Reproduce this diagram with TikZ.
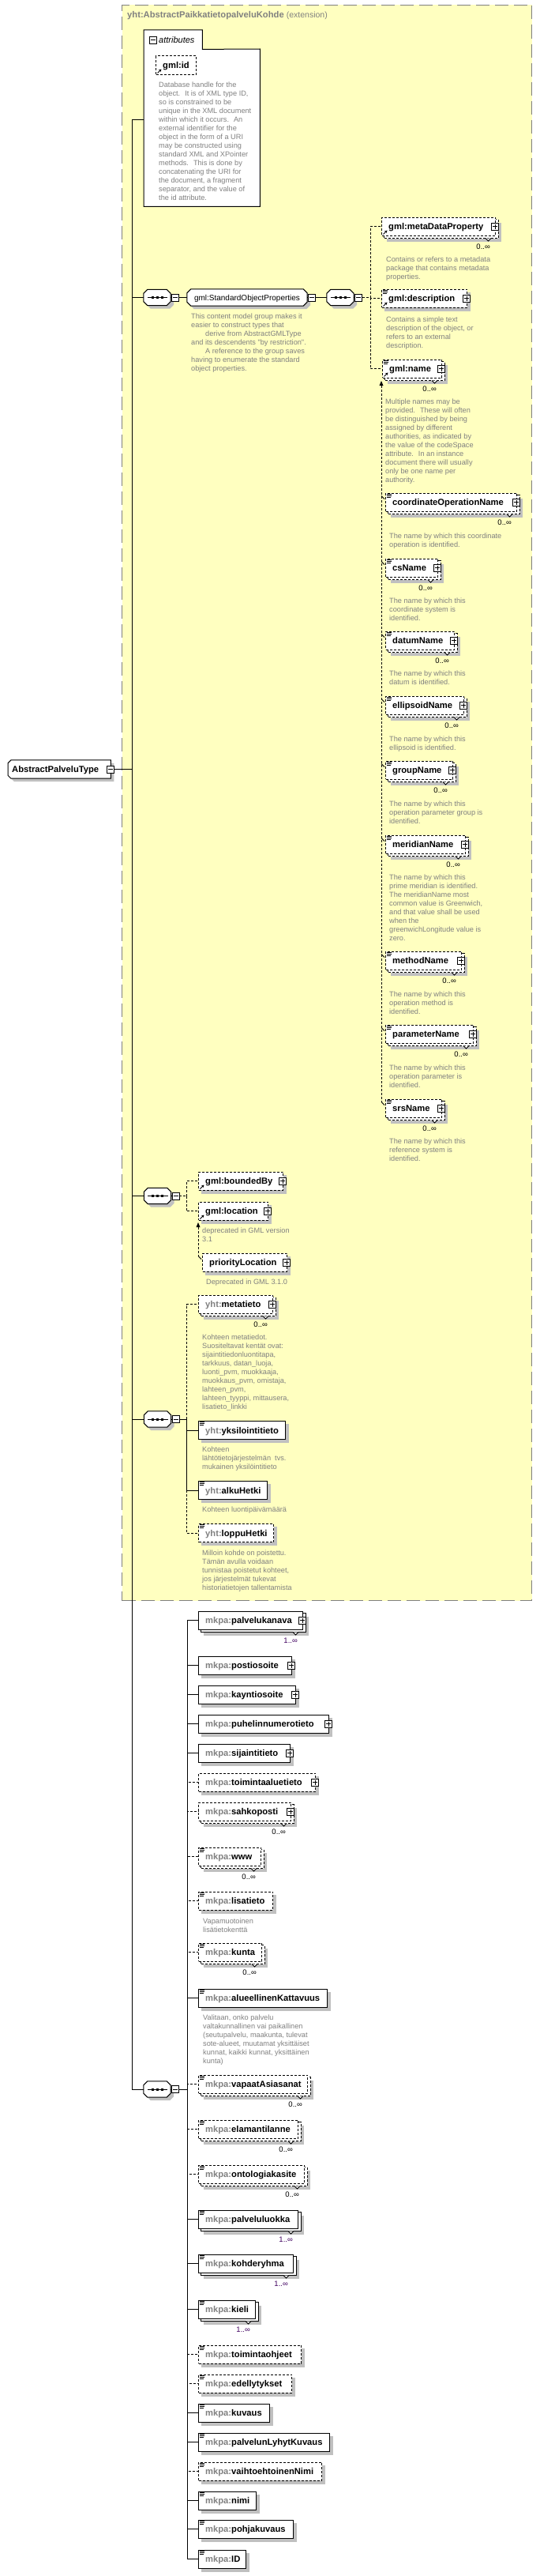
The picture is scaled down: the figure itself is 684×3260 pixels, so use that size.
\documentclass[tikz,border=0pt]{standalone}
\usepackage{fontspec}
\setmainfont{Liberation Sans}[Ligatures=TeXOff]
\usetikzlibrary{arrows.meta}
\definecolor{yel}{RGB}{255,255,192}
\definecolor{dgray}{RGB}{128,128,128}
\definecolor{shad}{RGB}{192,192,192}
\definecolor{bord}{RGB}{128,128,128}
\definecolor{mpurp}{RGB}{64,0,96}
\pgfdeclarelayer{bg}\pgfdeclarelayer{shadow}\pgfdeclarelayer{frame}
\pgfsetlayers{bg,shadow,frame,main}
\newcommand\fEl{\fontsize{11.2pt}{13pt}\selectfont\bfseries}
\newcommand\fDesc{\fontsize{9.2pt}{11pt}\selectfont}
\newcommand\fMult{\fontsize{9.5pt}{11pt}\selectfont}
\newcommand\fGrp{\fontsize{10pt}{12pt}\selectfont}
\newcommand\fAttr{\fontsize{11pt}{13pt}\selectfont\itshape}
\newcommand\xpfx[1]{{\color{dgray}#1}}
\tikzset{
 elbox/.style={draw, fill=white, line width=1pt, inner sep=0pt, minimum height=23pt},
 optb/.style={dash pattern=on 3pt off 2pt},
 reqb/.style={solid},
 eltext/.style={inner sep=0pt, font=\fEl, text height=8pt, text depth=0pt},
 desc/.style={inner sep=0pt, font=\fDesc, text=dgray, align=left, anchor=north west},
 mult/.style={inner sep=0pt, font=\fMult, anchor=east, text height=6.5pt, text depth=0pt},
 conn/.style={line width=1pt},
 oconn/.style={line width=1pt, dash pattern=on 3pt off 2pt},
 pmbox/.style={draw, fill=white, line width=0.8pt, minimum size=9pt, inner sep=0pt},
}
% element box: name, left, cy, width, text, style, shadow offset
\newcommand\xEl[7]{%
  \node[elbox,#6,minimum width=#4pt,anchor=west] (#1) at (#2,#3) {};
  \begin{pgfonlayer}{shadow}\fill[shad] ([shift={(#7,#7)}]#1.north west) rectangle ([shift={(#7,#7)}]#1.south east);\end{pgfonlayer}
  \node[eltext,anchor=west] (#1t) at ([xshift=9pt]#1.west) {#5};}
\newcommand\xMulti[3]{%
  \begin{pgfonlayer}{frame}
  \draw[line width=1pt,fill=white,#2] ([shift={(3,3)}]#1.north west) rectangle ([shift={(3,3)}]#1.south east);
  \draw[line width=0.8pt,fill=white] ([shift={(-13,3)}]#1.south east) -- ([shift={(-9.5,6.5)}]#1.south east) -- ([shift={(-6,3)}]#1.south east);
  \end{pgfonlayer}
  \node[mult] (#1m) at ([shift={(-7,14)}]#1.south east) {#3};}
\newcommand\xPlus[1]{%
  \node[pmbox] (#1p) at ([xshift=-1pt]#1.east) {};
  \draw[line width=0.8pt] ([xshift=-3pt]#1p.center) -- ([xshift=3pt]#1p.center) ([yshift=-3pt]#1p.center) -- ([yshift=3pt]#1p.center);}
\newcommand\xMinus[2]{%
  \node[pmbox] (#1) at (#2) {};
  \draw[line width=0.8pt] ([xshift=-3pt]#1.center) -- ([xshift=3pt]#1.center);}
\newcommand\xSimple[1]{%
  \draw[line width=0.7pt] ([shift={(2,1.8)}]#1.north west) -- +(6,0) ([shift={(2,3.8)}]#1.north west) -- +(6,0) ([shift={(2,5.8)}]#1.north west) -- +(5,0);}
\newcommand\xRefArr[1]{%
  \draw[line width=0.9pt,-{Stealth[length=3.5pt,width=3.5pt]}] ([shift={(2.5,-2)}]#1.south west) -- ([shift={(7.5,-7)}]#1.south west);}
\newcommand\xDesc[4]{\node[desc] (#1) at (#2,#3-4.7) {\rule{0pt}{8pt}#4};}
\newcommand\xTick[2]{%
  \path ([yshift=8pt]#1.west) coordinate (#1k);
  \draw[line width=0.8pt] (#1k -| #2) -- ([shift={(-1,-4)}]#1.west);}
\newcommand\xoctpath[3]{([shift={(#2+#3,#3)}]#1.north west) -- ([shift={(-#2+#3,#3)}]#1.north east) -- ([shift={(#3,#2+#3)}]#1.north east) -- ([shift={(#3,-#2+#3)}]#1.south east) -- ([shift={(-#2+#3,#3)}]#1.south east) -- ([shift={(#2+#3,#3)}]#1.south west) -- ([shift={(#3,-#2+#3)}]#1.south west) -- ([shift={(#3,#2+#3)}]#1.north west) -- cycle}
\newcommand\xtypepath[2]{([shift={(4+#2,#2)}]#1.north west) -- ([shift={(#2,#2)}]#1.north east) -- ([shift={(#2,#2)}]#1.south east) -- ([shift={(4+#2,#2)}]#1.south west) -- ([shift={(#2,-4+#2)}]#1.south west) -- ([shift={(#2,4+#2)}]#1.north west) -- cycle}
\newcommand\xSeq[3]{%
  \node[inner sep=0pt, minimum width=34pt, minimum height=20pt] (#1) at (#2,#3) {};
  \begin{pgfonlayer}{shadow}\fill[shad] \xoctpath{#1}{5}{4};\end{pgfonlayer}
  \begin{pgfonlayer}{frame}\draw[line width=1pt, fill=white] \xoctpath{#1}{5}{0};\end{pgfonlayer}
  \draw[line width=1pt] ([xshift=5pt]#1.west) -- ([xshift=-4pt]#1.east);
  \foreach \dx in {-6,0,6} {\fill ([shift={(\dx-1.5,-1.5)}]#1.center) rectangle ([shift={(\dx+1.5,1.5)}]#1.center);}
  \xMinus{#1m}{#2+23,#3}
  \draw[conn] (#1.east) -- (#1m.west);}
\newcommand\xMem[4]{%
  \xEl{#1}{488}{#2}{#3}{#4}{optb}{7}\xMulti{#1}{optb}{0..∞}\xSimple{#1}\xPlus{#1}\xTick{#1}{sgA}}
\newcommand\xLow[6]{\xEl{#1}{251}{#2}{#3}{\xpfx{mkpa:}#4}{#5}{#6}}
\begin{document}
\begin{tikzpicture}[x=1pt,y=-1pt]
\useasboundingbox (0,0) rectangle (684,3260);
\begin{pgfonlayer}{bg}
\fill[white] (0,0) rectangle (684,3260);
\node[draw=bord, fill=yel, line width=1pt, dash pattern=on 17pt off 7pt, inner sep=0pt, minimum width=519pt, minimum height=2019pt, anchor=north west] (ext) at (154,6) {};
\end{pgfonlayer}
\node[anchor=base west, inner sep=0pt, text=dgray] (title) at (161,23) {\fEl yht:AbstractPaikkatietopalveluKohde\ \fontsize{10.5pt}{12pt}\selectfont\mdseries(extension)};
% attributes
\node[inner sep=0pt, minimum width=147pt, minimum height=199pt, anchor=north west] (attr) at (182,62) {};
\node[inner sep=0pt, minimum width=74pt, minimum height=24pt, anchor=north west] (attrtab) at (182,38) {};
\draw[line width=1pt, fill=white] (attrtab.north west) -- (attrtab.north east) -- (attrtab.south east) -- (attr.north east) -- (attr.south east) -- (attr.south west) -- cycle;
\xMinus{attrm}{193.5,50.5}
\node[anchor=west, inner sep=0pt, font=\fAttr, text height=8pt, text depth=0pt] (attrt) at (201,50.5) {attributes};
\xEl{gid}{197}{82.5}{51}{gml:id}{optb}{4}\xRefArr{gid}
\xDesc{gidd}{201}{107}{Database handle for the\\object.~ It is of XML type ID,\\so is constrained to be\\unique in the XML document\\within which it occurs.~ An\\external identifier for the\\object in the form of a URI\\may be constructed using\\standard XML and XPointer\\methods.~ This is done by\\concatenating the URI for\\the document, a fragment\\separator, and the value of\\the id attribute.}
% type
\node[inner sep=0pt, minimum width=130pt, minimum height=23pt, anchor=west] (apt) at (10,973.5) {};
\begin{pgfonlayer}{shadow}\fill[shad] \xtypepath{apt}{4};\end{pgfonlayer}
\begin{pgfonlayer}{frame}\draw[line width=1pt, fill=white] \xtypepath{apt}{0};\end{pgfonlayer}
\node[eltext, anchor=west] (aptt) at (15,973.5) {AbstractPalveluType};
\xMinus{aptm}{140,973.5}
% standard object properties
\xSeq{seqa}{199}{376.5}
\node[inner sep=0pt, minimum width=152pt, minimum height=21pt, font=\fGrp, text height=7pt, text depth=0pt] (sop) at (313,376.5) {gml:StandardObjectProperties};
\begin{pgfonlayer}{shadow}\fill[shad] \xoctpath{sop}{5}{4};\end{pgfonlayer}
\begin{pgfonlayer}{frame}\draw[line width=1pt, fill=white] \xoctpath{sop}{5}{0};\end{pgfonlayer}
\xMinus{sopm}{395,376.5}
\xDesc{sopd}{242}{400}{This content model group makes it\\easier to construct types that\\\hspace*{18pt}derive from AbstractGMLType\\and its descendents "by restriction".\\\hspace*{18pt}A reference to the group saves\\having to enumerate the standard\\object properties.}
\xSeq{seqb}{431}{376.5}
\xEl{mdp}{483}{286.5}{144}{gml:metaDataProperty}{optb}{7}\xMulti{mdp}{optb}{0..∞}\xRefArr{mdp}\xPlus{mdp}
\xDesc{mdpd}{489}{328}{Contains or refers to a metadata\\package that contains metadata\\properties.}
\xEl{gdesc}{483}{377.5}{108}{gml:description}{optb}{4}\xSimple{gdesc}\xRefArr{gdesc}\xPlus{gdesc}
\xDesc{gdescd}{489}{404}{Contains a simple text\\description of the object, or\\refers to an external\\description.}
\xEl{gname}{484}{466.5}{75}{gml:name}{optb}{7}\xMulti{gname}{optb}{0..∞}\xSimple{gname}\xRefArr{gname}\xPlus{gname}
\xDesc{gnamed}{488}{508}{Multiple names may be\\provided.~ These will often\\be distinguished by being\\assigned by different\\authorities, as indicated by\\the value of the codeSpace\\attribute.~ In an instance\\document there will usually\\only be one name per\\authority.}
\coordinate (sgA) at (483,484);
\xMem{con}{635.5}{166}{coordinateOperationName}
\xDesc{cond}{493}{678}{The name by which this coordinate\\operation is identified.}
\xMem{csn}{718.5}{66}{csName}
\xDesc{csnd}{493}{760}{The name by which this\\coordinate system is\\identified.}
\xMem{dat}{810.5}{87}{datumName}
\xDesc{datd}{493}{852}{The name by which this\\datum is identified.}
\xMem{ell}{892.5}{99}{ellipsoidName}
\xDesc{elld}{493}{935}{The name by which this\\ellipsoid is identified.}
\xMem{grp}{974.5}{85}{groupName}
\xDesc{grpd}{493}{1017}{The name by which this\\operation parameter group is\\identified.}
\xMem{mer}{1068.5}{101}{meridianName}
\xDesc{merd}{493}{1110}{The name by which this\\prime meridian is identified.\\The meridianName most\\common value is Greenwich,\\and that value shall be used\\when the\\greenwichLongitude value is\\zero.}
\xMem{met}{1215.5}{96}{methodName}
\xDesc{metd}{493}{1258}{The name by which this\\operation method is\\identified.}
\xMem{par}{1308.5}{111}{parameterName}
\xDesc{pard}{493}{1351}{The name by which this\\operation parameter is\\identified.}
\xMem{srs}{1402.5}{71}{srsName}
\xDesc{srsd}{493}{1444}{The name by which this\\reference system is\\identified.}
\fill (sgA) ++(-2.5,4) -- ++(5,0) -- ++(-2.5,-6) -- cycle;
\draw[oconn] ([yshift=-4pt]sgA) -- (sgA |- srsk);
% boundedBy / location
\xSeq{seqc}{199.5}{1513.5}
\xEl{bb}{251}{1494.5}{107}{gml:boundedBy}{optb}{4}\xRefArr{bb}\xPlus{bb}
\xEl{loc}{251}{1532.5}{88}{gml:location}{optb}{4}\xRefArr{loc}\xPlus{loc}
\xDesc{locd}{256}{1557}{deprecated in GML version\\3.1}
\coordinate (sgB) at (251,1549);
\xEl{pl}{256}{1597.5}{107}{priorityLocation}{optb}{4}\xPlus{pl}\xTick{pl}{sgB}
\xDesc{pld}{261}{1622}{Deprecated in GML 3.1.0}
\fill (sgB) ++(-2.5,4) -- ++(5,0) -- ++(-2.5,-6) -- cycle;
\draw[oconn] ([yshift=-4pt]sgB) -- (sgB |- plk);
% yht
\xSeq{seqd}{199.5}{1796}
\xEl{meta}{251}{1650.5}{94}{\xpfx{yht:}metatieto}{optb}{7}\xMulti{meta}{optb}{0..∞}\xPlus{meta}
\xDesc{metad}{256}{1692}{Kohteen metatiedot.\\Suositeltavat kentät ovat:\\sijaintitiedonluontitapa,\\tarkkuus, datan\_luoja,\\luonti\_pvm, muokkaaja,\\muokkaus\_pvm, omistaja,\\lahteen\_pvm,\\lahteen\_tyyppi, mittausera,\\lisatieto\_linkki}
\xEl{yks}{251}{1810}{110}{\xpfx{yht:}yksilointitieto}{reqb}{4}\xSimple{yks}
\xDesc{yksd}{256}{1834}{Kohteen\\lähtötietojärjestelmän~ tvs.\\mukainen yksilöintitieto}
\xEl{alk}{251}{1886}{87}{\xpfx{yht:}alkuHetki}{reqb}{4}\xSimple{alk}
\xDesc{alkd}{256}{1910}{Kohteen luontipäivämäärä}
\xEl{lop}{251}{1940}{95}{\xpfx{yht:}loppuHetki}{optb}{4}\xSimple{lop}
\xDesc{lopd}{256}{1965}{Milloin kohde on poistettu.\\Tämän avulla voidaan\\tunnistaa poistetut kohteet,\\jos järjestelmät tukevat\\historiatietojen tallentamista}
% lower sequence
\xSeq{seqe}{199}{2644}
\xLow{e1}{2050.5}{132}{palvelukanava}{reqb}{7}\xMulti{e1}{reqb}{\color{mpurp}1..∞}\xPlus{e1}
\xLow{e2}{2107.5}{118}{postiosoite}{reqb}{4}\xPlus{e2}
\xLow{e3}{2144.5}{123}{kayntiosoite}{reqb}{4}\xPlus{e3}
\xLow{e4}{2181.5}{165}{puhelinnumerotieto}{reqb}{4}\xPlus{e4}
\xLow{e5}{2218.5}{116}{sijaintitieto}{reqb}{4}\xPlus{e5}
\xLow{e6}{2255.5}{148}{toimintaaluetieto}{optb}{4}\xPlus{e6}
\xLow{e7}{2292.5}{117}{sahkoposti}{optb}{7}\xMulti{e7}{optb}{0..∞}\xPlus{e7}
\xLow{e8}{2349.5}{79}{www}{optb}{7}\xMulti{e8}{optb}{0..∞}\xSimple{e8}
\xLow{e9}{2405.5}{94}{lisatieto}{optb}{4}\xSimple{e9}
\xDesc{e9d}{257}{2431}{Vapamuotoinen\\lisätietokenttä}
\xLow{e10}{2470.5}{80}{kunta}{optb}{7}\xMulti{e10}{optb}{0..∞}\xSimple{e10}
\xLow{e11}{2528.5}{163}{alueellinenKattavuus}{reqb}{4}\xSimple{e11}
\xDesc{e11d}{257}{2553}{Valitaan, onko palvelu\\valtakunnallinen vai paikallinen\\(seutupalvelu, maakunta, tulevat\\sote-alueet, muutamat yksittäiset\\kunnat, kaikki kunnat, yksittäinen\\kunta)}
\xLow{e12}{2637.5}{138}{vapaatAsiasanat}{optb}{7}\xMulti{e12}{optb}{0..∞}\xSimple{e12}
\xLow{e13}{2694.5}{126}{elamantilanne}{optb}{7}\xMulti{e13}{optb}{0..∞}\xSimple{e13}
\xLow{e14}{2751.5}{134}{ontologiakasite}{optb}{7}\xMulti{e14}{optb}{0..∞}\xSimple{e14}
\xLow{e15}{2808.5}{126}{palveluluokka}{reqb}{7}\xMulti{e15}{reqb}{\color{mpurp}1..∞}\xSimple{e15}
\xLow{e16}{2864.5}{120}{kohderyhma}{reqb}{7}\xMulti{e16}{reqb}{\color{mpurp}1..∞}\xSimple{e16}
\xLow{e17}{2922.5}{72}{kieli}{reqb}{7}\xMulti{e17}{reqb}{\color{mpurp}1..∞}\xSimple{e17}
\xLow{e18}{2979.5}{130}{toimintaohjeet}{optb}{4}\xSimple{e18}
\xLow{e19}{3016.5}{118}{edellytykset}{optb}{4}\xSimple{e19}
\xLow{e20}{3053.5}{90}{kuvaus}{reqb}{4}\xSimple{e20}
\xLow{e21}{3090.5}{166}{palvelunLyhytKuvaus}{reqb}{4}\xSimple{e21}
\xLow{e22}{3127.5}{156}{vaihtoehtoinenNimi}{optb}{4}\xSimple{e22}
\xLow{e23}{3164.5}{73}{nimi}{reqb}{4}\xSimple{e23}
\xLow{e24}{3200.5}{120}{pohjakuvaus}{reqb}{4}\xSimple{e24}
\xLow{e25}{3238.5}{60}{ID}{reqb}{4}\xSimple{e25}
% connectors
\coordinate (tr) at (167,151);
\draw[conn] (aptm.east) -- (aptm.east -| tr);
\draw[conn] (tr) -- (tr |- seqe.west);
\draw[conn] (tr) -- (tr -| attr.west);
\foreach \s in {seqa,seqc,seqd,seqe} {\draw[conn] (\s.west -| tr) -- (\s.west);}
\draw[conn] (seqam.east) -- (sop.west);
\draw[conn] (sop.east) -- (sopm.west);
\draw[conn] (sopm.east) -- (seqb.west);
\coordinate (jA) at (469,376.5);
\draw[oconn] (seqbm.east) -- (jA);
\foreach \n in {mdp,gdesc,gname} {\draw[oconn] (jA) |- (\n.west);}
\coordinate (jB) at (236,1513.5);
\draw[oconn] (seqcm.east) -- (jB);
\foreach \n in {bb,loc} {\draw[oconn] (jB) |- (\n.west);}
\coordinate (jC) at (236,1796);
\draw[conn] (seqdm.east) -- (jC);
\foreach \n in {meta,lop} {\draw[oconn] (jC) |- (\n.west);}
\foreach \n in {yks,alk} {\draw[conn] (jC) |- (\n.west);}
\coordinate (jD) at (237,2644);
\draw[conn] (seqem.east) -- (jD);
\foreach \n in {e6,e7,e8,e9,e10,e12,e13,e14,e18,e19,e22} {\draw[oconn] (jD) |- (\n.west);}
\foreach \n in {e1,e2,e3,e4,e5,e11,e15,e16,e17,e20,e21,e23,e24,e25} {\draw[conn] (jD) |- (\n.west);}
\end{tikzpicture}
\end{document}
